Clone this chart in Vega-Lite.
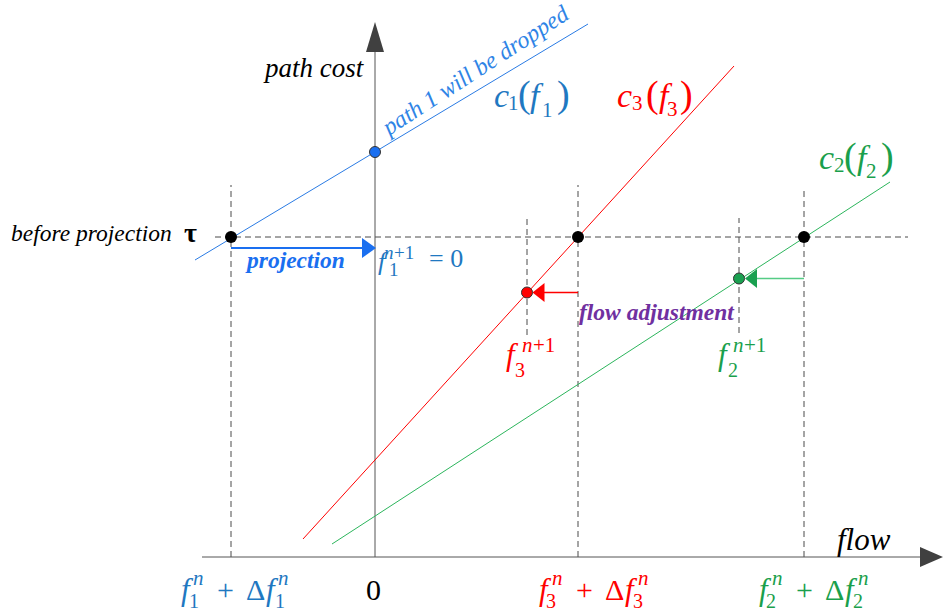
{
  "$schema": "https://vega.github.io/schema/vega-lite/v6.json",
  "width": 943,
  "height": 613,
  "autosize": {"type": "none"},
  "padding": 0,
  "background": "white",
  "config": {"view": {"stroke": null}, "text": {"font": "Liberation Serif"}},
  "datasets": {
    "seg": [
      {"x": -173, "y": 0, "x2": 545, "y2": 0, "k": "axis"},
      {"x": 0, "y": 0, "x2": 0, "y2": 506, "k": "axis"},
      {"x": -180, "y": 297, "x2": 213, "y2": 533, "k": "c1line"},
      {"x": -72, "y": 18, "x2": 359, "y2": 491, "k": "c3"},
      {"x": -43, "y": 13, "x2": 515, "y2": 375, "k": "c2line"}
    ],
    "dash": [
      {"x": -160, "y": 320, "x2": 533, "y2": 320, "k": "dash"},
      {"x": -144, "y": 0, "x2": -144, "y2": 372, "k": "dash"},
      {"x": 203, "y": 0, "x2": 203, "y2": 372, "k": "dash"},
      {"x": 429, "y": 0, "x2": 429, "y2": 370, "k": "dash"},
      {"x": 152, "y": 222, "x2": 152, "y2": 339, "k": "dash"},
      {"x": 364, "y": 224, "x2": 364, "y2": 339, "k": "dash"}
    ],
    "shaft": [
      {"x": -144, "y": 309, "x2": -13, "y2": 309, "k": "proj"},
      {"x": 169, "y": 264.5, "x2": 203, "y2": 264.5, "k": "c3"},
      {"x": 381, "y": 278.5, "x2": 429, "y2": 278.5, "k": "c2arrow"}
    ],
    "heads": [
      {"h": "up", "x": 0, "y": 520, "k": "head"},
      {"h": "axis", "x": 556.5, "y": 0, "k": "head"},
      {"h": "proj", "x": -6, "y": 309, "k": "proj"},
      {"h": "left", "x": 163.5, "y": 264.5, "k": "c3"},
      {"h": "left", "x": 376, "y": 278.5, "k": "c2dot"}
    ],
    "dots": [
      {"x": -144, "y": 320, "k": "ink"},
      {"x": 203, "y": 320, "k": "ink"},
      {"x": 429, "y": 320, "k": "ink"},
      {"x": 0, "y": 405, "k": "c1dot"},
      {"x": 152, "y": 264.5, "k": "c3"},
      {"x": 364, "y": 278.5, "k": "c2dot"}
    ],
    "words": [
      {"role": "axt", "t": "path cost", "x": -110, "y": 480, "k": "ink"},
      {"role": "flow", "t": "flow", "x": 462, "y": 7, "k": "ink"},
      {"role": "note", "t": "before projection", "x": -364, "y": 316, "k": "ink"},
      {"role": "tau", "t": "τ", "x": -191, "y": 315, "k": "ink"},
      {"role": "bold", "t": "projection", "x": -128, "y": 289, "k": "proj"},
      {"role": "bold", "t": "flow adjustment", "x": 204, "y": 237, "k": "adj"},
      {"role": "drop", "t": "path 1 will be dropped", "x": 101, "y": 486, "k": "drop"}
    ],
    "math": [
      {"role": "I1", "t": "c", "x": 119, "y": 450, "k": "c1text"},
      {"role": "S1", "t": "1", "x": 133, "y": 447, "k": "c1text"},
      {"role": "P1", "t": "(", "x": 143, "y": 450, "k": "c1text"},
      {"role": "I1", "t": "f", "x": 155, "y": 450, "k": "c1text"},
      {"role": "S1", "t": "1", "x": 167, "y": 440, "k": "c1text"},
      {"role": "P1", "t": ")", "x": 182, "y": 450, "k": "c1text"},

      {"role": "I1", "t": "c", "x": 242, "y": 450, "k": "c3"},
      {"role": "S1", "t": "3", "x": 257, "y": 447, "k": "c3"},
      {"role": "P1", "t": "(", "x": 271, "y": 450, "k": "c3"},
      {"role": "I1", "t": "f", "x": 284, "y": 450, "k": "c3"},
      {"role": "S1", "t": "3", "x": 292, "y": 441, "k": "c3"},
      {"role": "P1", "t": ")", "x": 305, "y": 450, "k": "c3"},

      {"role": "I1", "t": "c", "x": 444, "y": 388, "k": "c2text"},
      {"role": "S1", "t": "2", "x": 459, "y": 385, "k": "c2text"},
      {"role": "P1", "t": "(", "x": 469, "y": 388, "k": "c2text"},
      {"role": "I1", "t": "f", "x": 482, "y": 388, "k": "c2text"},
      {"role": "S1", "t": "2", "x": 491, "y": 379, "k": "c2text"},
      {"role": "P1", "t": ")", "x": 506, "y": 388, "k": "c2text"},

      {"role": "I2", "t": "f", "x": -194, "y": -43, "k": "c1text"},
      {"role": "SI", "t": "n", "x": -182, "y": -28, "k": "c1text"},
      {"role": "S2", "t": "1", "x": -186, "y": -51, "k": "c1text"},
      {"role": "U2", "t": "+", "x": -158, "y": -43, "k": "c1text"},
      {"role": "U2", "t": "Δ", "x": -129, "y": -43, "k": "c1text"},
      {"role": "I2", "t": "f", "x": -109, "y": -43, "k": "c1text"},
      {"role": "SI", "t": "n", "x": -97, "y": -28, "k": "c1text"},
      {"role": "S2", "t": "1", "x": -100, "y": -51, "k": "c1text"},

      {"role": "U2", "t": "0", "x": -9, "y": -43, "k": "ink"},

      {"role": "I2", "t": "f", "x": 164, "y": -43, "k": "c3"},
      {"role": "SI", "t": "n", "x": 177, "y": -28, "k": "c3"},
      {"role": "S2", "t": "3", "x": 171, "y": -51, "k": "c3"},
      {"role": "U2", "t": "+", "x": 201, "y": -43, "k": "c3"},
      {"role": "U2", "t": "Δ", "x": 230, "y": -43, "k": "c3"},
      {"role": "I2", "t": "f", "x": 250, "y": -43, "k": "c3"},
      {"role": "SI", "t": "n", "x": 263, "y": -28, "k": "c3"},
      {"role": "S2", "t": "3", "x": 258, "y": -51, "k": "c3"},

      {"role": "I2", "t": "f", "x": 384, "y": -43, "k": "c2text"},
      {"role": "SI", "t": "n", "x": 397, "y": -28, "k": "c2text"},
      {"role": "S2", "t": "2", "x": 391, "y": -51, "k": "c2text"},
      {"role": "U2", "t": "+", "x": 421, "y": -43, "k": "c2text"},
      {"role": "U2", "t": "Δ", "x": 450, "y": -43, "k": "c2text"},
      {"role": "I2", "t": "f", "x": 470, "y": -43, "k": "c2text"},
      {"role": "SI", "t": "n", "x": 483, "y": -28, "k": "c2text"},
      {"role": "S2", "t": "2", "x": 478, "y": -51, "k": "c2text"},

      {"role": "I2", "t": "f", "x": 131, "y": 192, "k": "c3"},
      {"role": "SI", "t": "n", "x": 147, "y": 205, "k": "c3"},
      {"role": "SP", "t": "+1", "x": 158, "y": 205, "k": "c3"},
      {"role": "S2", "t": "3", "x": 140, "y": 180, "k": "c3"},

      {"role": "I2", "t": "f", "x": 343, "y": 192, "k": "c2text"},
      {"role": "SI", "t": "n", "x": 358, "y": 205, "k": "c2text"},
      {"role": "SP", "t": "+1", "x": 369, "y": 205, "k": "c2text"},
      {"role": "S2", "t": "2", "x": 353, "y": 180, "k": "c2text"},

      {"role": "I3", "t": "f", "x": 3, "y": 287, "k": "c1text"},
      {"role": "SI3", "t": "n", "x": 9, "y": 298, "k": "c1text"},
      {"role": "S3", "t": "+1", "x": 19, "y": 298, "k": "c1text"},
      {"role": "S3", "t": "1", "x": 14, "y": 281, "k": "c1text"},
      {"role": "U3", "t": "= 0", "x": 54, "y": 290, "k": "c1text"}
    ]
  },
  "encoding": {
    "x": {"field": "x", "type": "quantitative", "scale": {"domain": [-375, 568], "nice": false, "zero": false}, "axis": null},
    "y": {"field": "y", "type": "quantitative", "scale": {"domain": [-56, 557], "nice": false, "zero": false}, "axis": null},
    "color": {
      "field": "k",
      "type": "nominal",
      "legend": null,
      "scale": {
        "domain": ["ink", "axis", "head", "dash", "c1line", "c1text", "c1dot", "proj", "drop", "c3", "c2line", "c2text", "c2dot", "c2arrow", "adj"],
        "range": ["#000000", "#555555", "#404040", "#4a4a4a", "#2a7be4", "#1f78c1", "#1a6ff0", "#1a6ff0", "#2f84e6", "#ff0000", "#2cb55c", "#1a9f4c", "#1aa050", "#55cc85", "#7030a0"]
      }
    }
  },
  "layer": [
    {"data": {"name": "dash"}, "mark": {"type": "rule", "strokeWidth": 1, "strokeDash": [6, 4]},
     "encoding": {"x2": {"field": "x2"}, "y2": {"field": "y2"}}},
    {"data": {"name": "seg"}, "mark": {"type": "rule", "strokeWidth": 1},
     "encoding": {"x2": {"field": "x2"}, "y2": {"field": "y2"}}},
    {"data": {"name": "shaft"}, "transform": [{"filter": "datum.k == 'proj'"}], "mark": {"type": "rule", "strokeWidth": 2},
     "encoding": {"x2": {"field": "x2"}, "y2": {"field": "y2"}}},
    {"data": {"name": "shaft"}, "transform": [{"filter": "datum.k != 'proj'"}], "mark": {"type": "rule", "strokeWidth": 1.5},
     "encoding": {"x2": {"field": "x2"}, "y2": {"field": "y2"}}},
    {"data": {"name": "heads"}, "transform": [{"filter": "datum.h == 'up'"}],
     "mark": {"type": "point", "filled": true, "opacity": 1, "size": 900, "shape": "M0,-1L0.6,1L-0.6,1Z"}},
    {"data": {"name": "heads"}, "transform": [{"filter": "datum.h == 'axis'"}],
     "mark": {"type": "point", "filled": true, "opacity": 1, "size": 529, "shape": "M1,0L-1,-0.87L-1,0.87Z"}},
    {"data": {"name": "heads"}, "transform": [{"filter": "datum.h == 'proj'"}],
     "mark": {"type": "point", "filled": true, "opacity": 1, "size": 400, "shape": "M0.7,0L-0.7,-1L-0.7,1Z"}},
    {"data": {"name": "heads"}, "transform": [{"filter": "datum.h == 'left'"}],
     "mark": {"type": "point", "filled": true, "opacity": 1, "size": 400, "shape": "M-0.6,0L0.6,-0.95L0.6,0.95Z"}},
    {"data": {"name": "dots"}, "transform": [{"filter": "datum.k == 'ink'"}],
     "mark": {"type": "circle", "opacity": 1, "size": 144}},
    {"data": {"name": "dots"}, "transform": [{"filter": "datum.k != 'ink'"}],
     "mark": {"type": "circle", "opacity": 1, "size": 121, "stroke": "#333333", "strokeWidth": 1}},
    {"data": {"name": "words"}, "transform": [{"filter": "datum.role == 'axt'"}],
     "mark": {"type": "text", "fontStyle": "italic", "fontSize": 27, "align": "left", "baseline": "alphabetic"},
     "encoding": {"text": {"field": "t"}}},
    {"data": {"name": "words"}, "transform": [{"filter": "datum.role == 'flow'"}],
     "mark": {"type": "text", "fontStyle": "italic", "fontSize": 31, "align": "left", "baseline": "alphabetic"},
     "encoding": {"text": {"field": "t"}}},
    {"data": {"name": "words"}, "transform": [{"filter": "datum.role == 'note'"}],
     "mark": {"type": "text", "fontStyle": "italic", "fontSize": 23.5, "align": "left", "baseline": "alphabetic"},
     "encoding": {"text": {"field": "t"}}},
    {"data": {"name": "words"}, "transform": [{"filter": "datum.role == 'tau'"}],
     "mark": {"type": "text", "fontWeight": "bold", "fontSize": 28, "align": "left", "baseline": "alphabetic"},
     "encoding": {"text": {"field": "t"}}},
    {"data": {"name": "words"}, "transform": [{"filter": "datum.role == 'bold'"}],
     "mark": {"type": "text", "fontWeight": "bold", "fontStyle": "italic", "fontSize": 23.5, "align": "left", "baseline": "alphabetic"},
     "encoding": {"text": {"field": "t"}}},
    {"data": {"name": "words"}, "transform": [{"filter": "datum.role == 'drop'"}],
     "mark": {"type": "text", "fontStyle": "italic", "fontSize": 24, "align": "center", "baseline": "middle", "angle": 327},
     "encoding": {"text": {"field": "t"}}},
    {"data": {"name": "math"}, "transform": [{"filter": "datum.role == 'I1'"}],
     "mark": {"type": "text", "fontStyle": "italic", "fontSize": 34, "align": "left", "baseline": "alphabetic"},
     "encoding": {"text": {"field": "t"}}},
    {"data": {"name": "math"}, "transform": [{"filter": "datum.role == 'S1'"}],
     "mark": {"type": "text", "fontSize": 21, "align": "left", "baseline": "alphabetic"},
     "encoding": {"text": {"field": "t"}}},
    {"data": {"name": "math"}, "transform": [{"filter": "datum.role == 'P1'"}],
     "mark": {"type": "text", "fontSize": 38, "align": "left", "baseline": "alphabetic"},
     "encoding": {"text": {"field": "t"}}},
    {"data": {"name": "math"}, "transform": [{"filter": "datum.role == 'I2'"}],
     "mark": {"type": "text", "fontStyle": "italic", "fontSize": 31, "align": "left", "baseline": "alphabetic"},
     "encoding": {"text": {"field": "t"}}},
    {"data": {"name": "math"}, "transform": [{"filter": "datum.role == 'U2'"}],
     "mark": {"type": "text", "fontSize": 30, "align": "left", "baseline": "alphabetic"},
     "encoding": {"text": {"field": "t"}}},
    {"data": {"name": "math"}, "transform": [{"filter": "datum.role == 'S2'"}],
     "mark": {"type": "text", "fontSize": 20, "align": "left", "baseline": "alphabetic"},
     "encoding": {"text": {"field": "t"}}},
    {"data": {"name": "math"}, "transform": [{"filter": "datum.role == 'SI'"}],
     "mark": {"type": "text", "fontStyle": "italic", "fontSize": 21, "align": "left", "baseline": "alphabetic"},
     "encoding": {"text": {"field": "t"}}},
    {"data": {"name": "math"}, "transform": [{"filter": "datum.role == 'SP'"}],
     "mark": {"type": "text", "fontSize": 21, "align": "left", "baseline": "alphabetic"},
     "encoding": {"text": {"field": "t"}}},
    {"data": {"name": "math"}, "transform": [{"filter": "datum.role == 'I3'"}],
     "mark": {"type": "text", "fontStyle": "italic", "fontSize": 26, "align": "left", "baseline": "alphabetic"},
     "encoding": {"text": {"field": "t"}}},
    {"data": {"name": "math"}, "transform": [{"filter": "datum.role == 'SI3'"}],
     "mark": {"type": "text", "fontStyle": "italic", "fontSize": 19, "align": "left", "baseline": "alphabetic"},
     "encoding": {"text": {"field": "t"}}},
    {"data": {"name": "math"}, "transform": [{"filter": "datum.role == 'S3'"}],
     "mark": {"type": "text", "fontSize": 19, "align": "left", "baseline": "alphabetic"},
     "encoding": {"text": {"field": "t"}}},
    {"data": {"name": "math"}, "transform": [{"filter": "datum.role == 'U3'"}],
     "mark": {"type": "text", "fontSize": 26, "align": "left", "baseline": "alphabetic"},
     "encoding": {"text": {"field": "t"}}}
  ]
}
